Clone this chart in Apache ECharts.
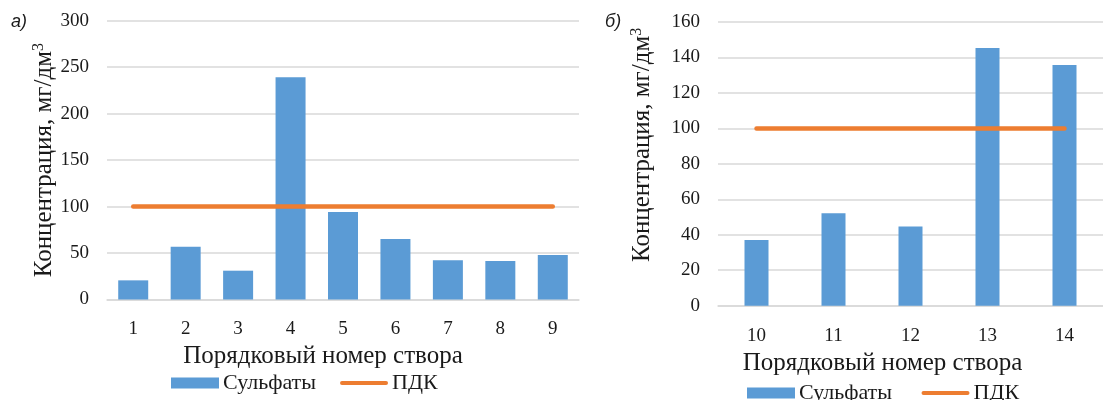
<!DOCTYPE html>
<html>
<head>
<meta charset="utf-8">
<script src="https://cdn.jsdelivr.net/npm/echarts@6/dist/echarts.min.js"></script>
<style>html,body{margin:0;padding:0;background:#fff;}#c{width:1103px;height:400px;}</style>
</head>
<body>
<div id="c"></div>
<script>
const categoriesA = ['1','2','3','4','5','6','7','8','9'];
const sulfatesA = [20.6, 56.8, 31, 239.2, 94.1, 65, 42.2, 41.4, 47.8];
const pdkA = [100, 100, 100, 100, 100, 100, 100, 100, 100];
const categoriesB = ['10','11','12','13','14'];
const sulfatesB = [37.1, 52.1, 44.6, 145.3, 135.8];
const pdkB = [100, 100, 100, 100, 100];
const yTicksA = {min: 0, max: 300, interval: 50};
const yTicksB = {min: 0, max: 160, interval: 20};

const BLUE = '#5B9BD5', ORANGE = '#ED7D31', GRID = '#D9D9D9';
const serif = '"Liberation Serif", "Times New Roman", serif';
const chart = echarts.init(document.getElementById('c'), null, {renderer: 'canvas'});
const LINE_ICON = 'path://M2,0 L46,0 A2,2 0 0 1 46,4 L2,4 A2,2 0 0 1 2,0 Z';

function xAx(idx, cats, padRight, labelMargin) {
  return {
    type: 'category', gridIndex: idx, data: cats,
    axisTick: {show: false},
    axisLine: {lineStyle: {color: GRID, width: 1.5}},
    axisLabel: {color: '#1a1a1a', fontFamily: serif, fontSize: 19, margin: labelMargin},
    name: 'Порядковый номер створа', nameLocation: 'middle', nameGap: 44,
    nameTextStyle: {color: '#1a1a1a', fontFamily: serif, fontSize: 25, padding: [0, padRight, 0, 0]}
  };
}
function yAx(idx, t, gap, padL) {
  return {
    type: 'value', gridIndex: idx, min: t.min, max: t.max, interval: t.interval,
    axisLine: {show: false}, axisTick: {show: false},
    splitLine: {lineStyle: {color: GRID, width: 1.5}},
    axisLabel: {color: '#1a1a1a', fontFamily: serif, fontSize: 19, margin: 18},
    name: 'Концентрация, мг/дм{sup|3}', nameLocation: 'middle', nameGap: gap, nameRotate: 90,
    nameTextStyle: {color: '#1a1a1a', fontFamily: serif, fontSize: 25, padding: [0, 0, 0, padL],
      rich: {sup: {fontFamily: serif, fontSize: 16, verticalAlign: 'top', padding: [0, 0, 10, 0], color: '#1a1a1a'}}}
  };
}

chart.setOption({
  animation: false,
  grid: [
    {left: 107, right: 524, top: 20.7, bottom: 100.5},
    {left: 718, right: -8, top: 22, bottom: 94.3}
  ],
  xAxis: [xAx(0, categoriesA, 40, 20), xAx(1, categoriesB, 56, 21)],
  yAxis: [yAx(0, yTicksA, 50, 0), yAx(1, yTicksB, 63, 38)],
  legend: [
    {left: 166, top: 367, itemWidth: 48, itemHeight: 11, itemGap: 24,
     textStyle: {fontFamily: serif, fontSize: 22, color: '#1a1a1a', padding: [0, 0, 0, -1]},
     data: [{name: 'Сульфаты', icon: 'rect'}, {name: 'ПДК', icon: LINE_ICON}]},
    {left: 742, top: 377, itemWidth: 48, itemHeight: 11, itemGap: 24,
     textStyle: {fontFamily: serif, fontSize: 22, color: '#1a1a1a', padding: [0, 0, 0, -1]},
     data: [{name: 'Сульфаты ', icon: 'rect'}, {name: 'ПДК ', icon: LINE_ICON}]}
  ],
  graphic: [
    {type: 'text', left: 11, top: 13, style: {text: 'а)', font: 'italic 18px "Liberation Sans", Arial, sans-serif', fill: '#1a1a1a'}},
    {type: 'text', left: 605, top: 13, style: {text: 'б)', font: 'italic 18px "Liberation Sans", Arial, sans-serif', fill: '#1a1a1a'}}
  ],
  series: [
    {name: 'Сульфаты', type: 'bar', xAxisIndex: 0, yAxisIndex: 0, data: sulfatesA, barWidth: 30, itemStyle: {color: BLUE}},
    {name: 'ПДК', type: 'line', xAxisIndex: 0, yAxisIndex: 0, data: pdkA, symbol: 'none', showSymbol: false,
     lineStyle: {color: ORANGE, width: 4.5, cap: 'round'}, itemStyle: {color: ORANGE}},
    {name: 'Сульфаты ', type: 'bar', xAxisIndex: 1, yAxisIndex: 1, data: sulfatesB, barWidth: 24, itemStyle: {color: BLUE}},
    {name: 'ПДК ', type: 'line', xAxisIndex: 1, yAxisIndex: 1, data: pdkB, symbol: 'none', showSymbol: false,
     lineStyle: {color: ORANGE, width: 4.5, cap: 'round'}, itemStyle: {color: ORANGE}}
  ]
});
</script>
</body>
</html>
